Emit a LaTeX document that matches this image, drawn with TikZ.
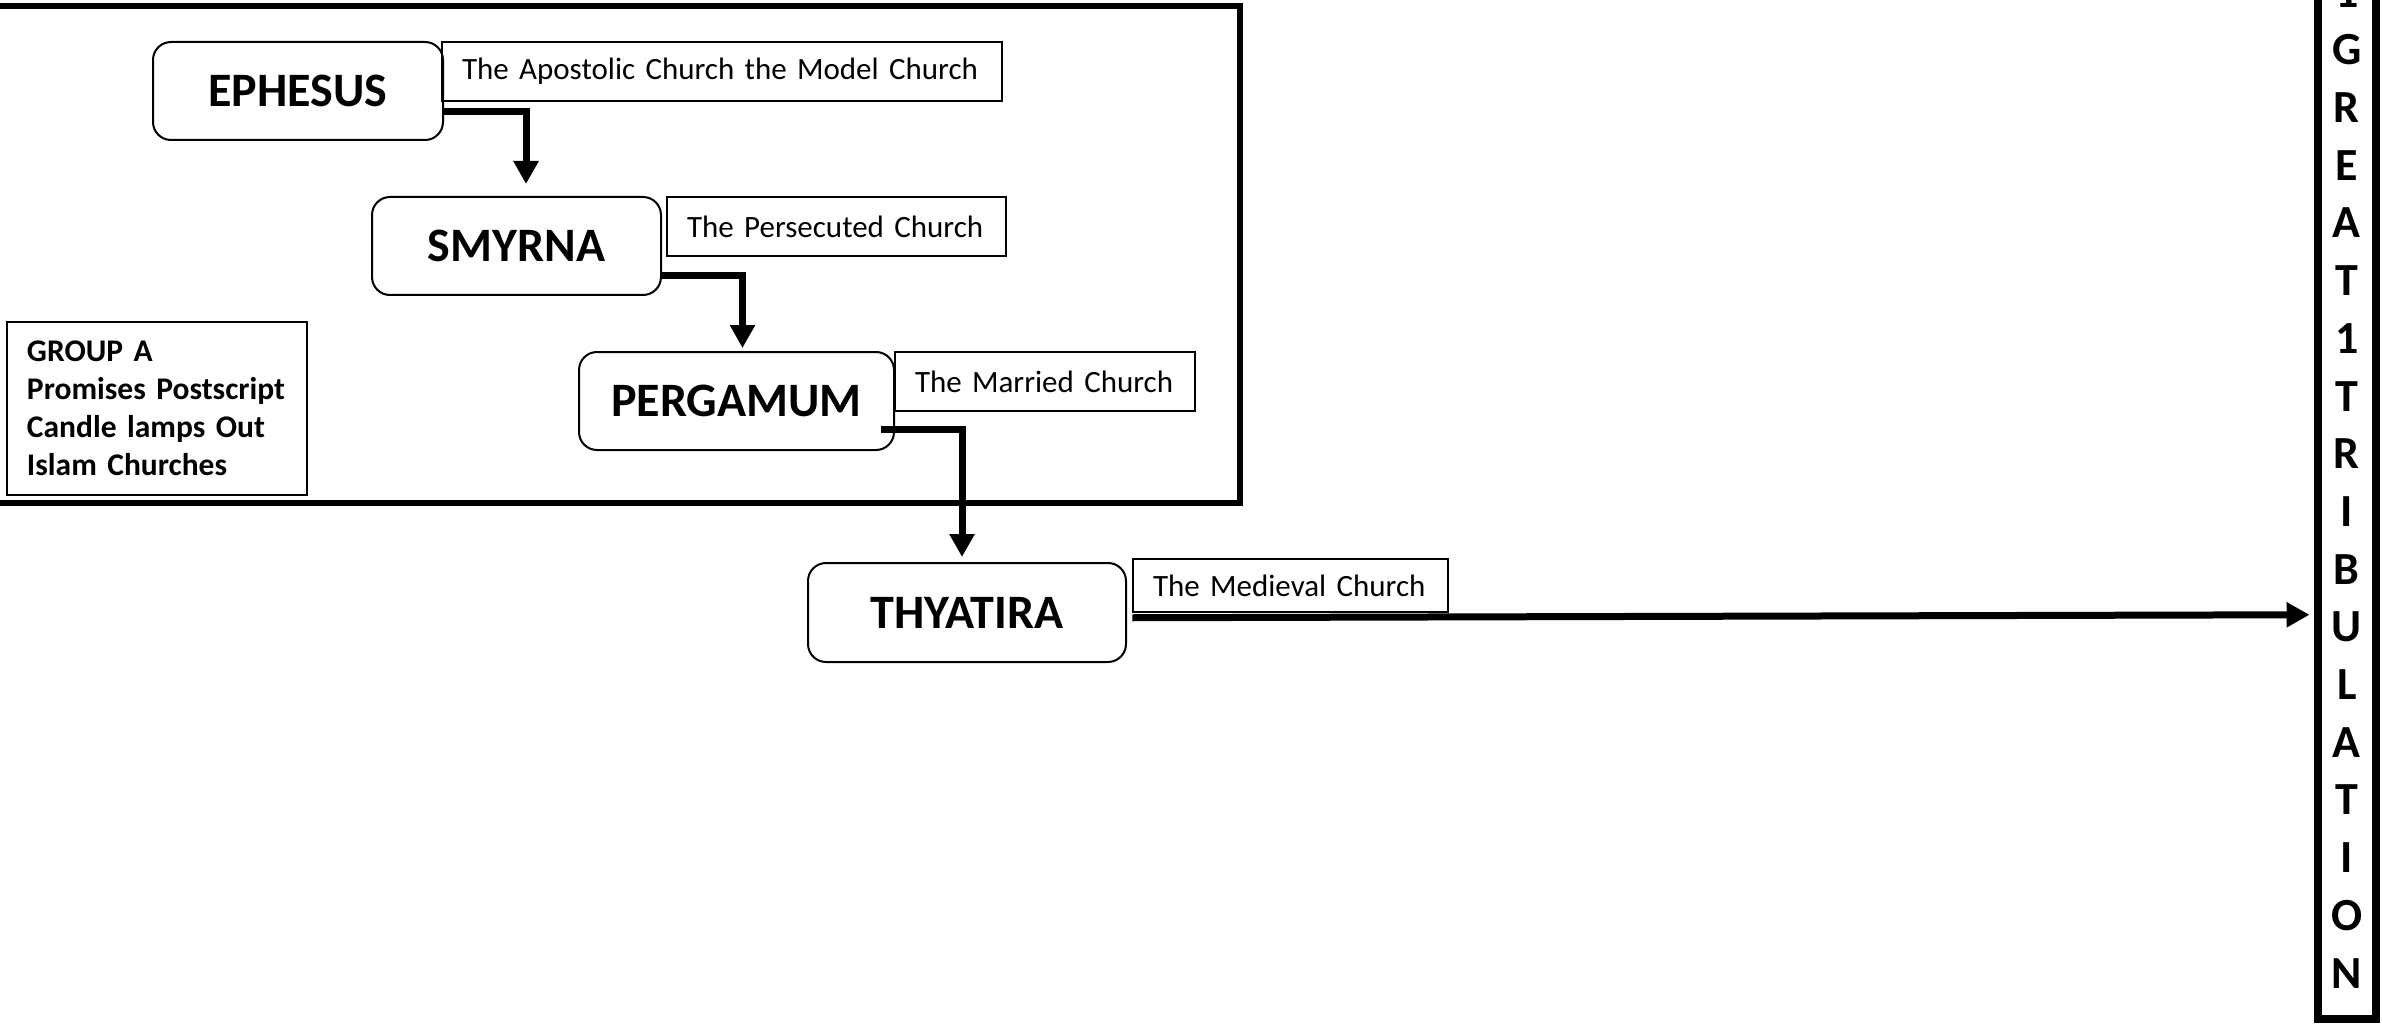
\documentclass[tikz,border=0pt]{standalone}
\usepackage{fontspec}
\setmainfont{Carlito}
\usetikzlibrary{arrows.meta,calc}
\begin{document}
\begin{tikzpicture}[x=1pt,y=-1pt,
  city/.style={draw, line width=2pt, rounded corners=18pt, inner sep=0pt,
    font=\fontsize{48}{57}\selectfont\bfseries},
  lbl/.style={draw, line width=1.5pt, inner xsep=20pt, inner ysep=0pt, align=left,
    font=\fontsize{31}{37}\selectfont},
  conn/.style={line width=7pt, -{Triangle[width=24pt,length=23pt]}},
]
\useasboundingbox (0,0) rectangle (2382,1024);
% group frame
\draw[line width=6pt] (0,6) -- (1240,6) -- (1240,503) -- (0,503);
% churches
\node[city, minimum width=290pt, minimum height=98pt] (eph) at (298,91) {EPHESUS};
\node[lbl, text width=520pt, minimum height=59pt] (ephl) at (722,71.5) {The Apostolic Church the Model Church};
\node[city, minimum width=289pt, minimum height=98pt] (smy) at (516.5,246) {SMYRNA};
\node[lbl, text width=299pt, minimum height=59pt] (smyl) at (836.5,226.5) {The Persecuted Church};
\node[city, minimum width=315pt, minimum height=98pt] (per) at (736.5,401) {PERGAMUM};
\node[lbl, text width=260pt, minimum height=59pt] (perl) at (1045,381.5) {The Married Church};
\node[city, minimum width=318pt, minimum height=99pt] (thy) at (967,612.5) {THYATIRA};
\node[lbl, text width=275pt, minimum height=53pt] (thyl) at (1290.5,585.5) {The Medieval Church};
% group A
\node[draw, line width=1.5pt, minimum width=300pt, minimum height=173pt, inner xsep=20pt,
  text width=260pt, align=left, font=\fontsize{31.5}{38}\selectfont\bfseries] (grp) at (157,408.5)
  {GROUP A\\Promises Postscript\\Candle lamps Out\\Islam Churches};
% tribulation
\node[draw, line width=8pt, minimum width=58.5pt, minimum height=1072.6pt, inner sep=0pt,
  align=center, font=\fontsize{46}{57.7}\selectfont\bfseries] (trib) at (2346.75,482.7)
  {1\\G\\R\\E\\A\\T\\1\\T\\R\\I\\B\\U\\L\\A\\T\\I\\O\\N};
% connectors
\draw[conn] ([yshift=29pt]eph.south east) -| ([xshift=9.5pt,yshift=12pt]smy.north);
\draw[conn] ([yshift=20pt]smy.south east) -| ([xshift=6pt,yshift=3pt]per.north);
\draw[conn] ([xshift=-14pt,yshift=22pt]per.south east) -| ([xshift=-5pt,yshift=5pt]thy.north);
\draw[conn] ([yshift=-5pt]thyl.south west) -- ($(trib.west |- thyl.south)+(-4,2)$);
\end{tikzpicture}
\end{document}
